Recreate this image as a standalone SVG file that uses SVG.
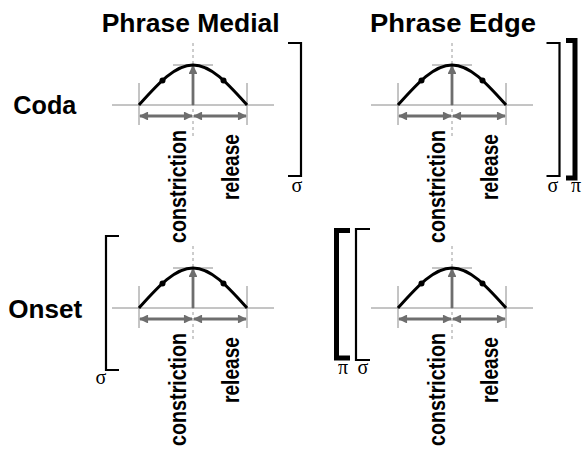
<svg xmlns="http://www.w3.org/2000/svg" xmlns:xlink="http://www.w3.org/1999/xlink" width="585" height="453" viewBox="0 0 585 453">
  <style>
    .head { font-family: "Liberation Sans", Arial, sans-serif; font-weight: bold; font-size: 26px; fill: #000; }
    .lab { font-family: "Liberation Sans", Arial, sans-serif; font-weight: bold; font-size: 24px; fill: #000; }
    .greek { font-family: "Liberation Serif", "Times New Roman", serif; font-size: 20px; fill: #000; }
    .axis { stroke: #8a8a8a; stroke-width: 1; fill: none; }
    .dash { stroke: #9a9a9a; stroke-width: 1; stroke-dasharray: 3 3; fill: none; }
    .traj { stroke: #000; stroke-width: 3; fill: none; }
    .garrow { stroke: #6e6e6e; stroke-width: 2.8; fill: none; }
    .br { stroke: #000; stroke-width: 2.2; fill: none; }
    .brk { stroke: #000; stroke-width: 5; fill: none; }
  </style>
  <defs>
    <marker id="ah" viewBox="0 0 10 10" refX="9" refY="5" markerWidth="3.8" markerHeight="3.2" orient="auto-start-reverse" markerUnits="strokeWidth">
      <path d="M0,0 L10,5 L0,10 Z" fill="#6e6e6e"/>
    </marker>
    <!-- one gesture: origin at the peak column, on the baseline -->
    <g id="gesture">
      <line class="axis" x1="-81" y1="0" x2="81" y2="0"/>
      <line class="axis" x1="-54" y1="-22" x2="-54" y2="20"/>
      <line class="axis" x1="54" y1="-22" x2="54" y2="20"/>
      <line class="axis" x1="-20" y1="-40" x2="20" y2="-40"/>
      <line class="dash" x1="0" y1="-62" x2="0" y2="32"/>
      <line class="garrow" x1="0" y1="0" x2="0" y2="-39" marker-end="url(#ah)"/>
      <line class="garrow" x1="-53" y1="11" x2="-1" y2="11" marker-start="url(#ah)" marker-end="url(#ah)"/>
      <line class="garrow" x1="1" y1="11" x2="53" y2="11" marker-start="url(#ah)" marker-end="url(#ah)"/>
      <path class="traj" d="M-54,0 C-36.4,-19.5 -18.85,-40 0,-40 C18.85,-40 36.4,-19.5 54,0"/>
      <circle cx="-30.5" cy="-24.5" r="3" fill="#000"/>
      <circle cx="30.5" cy="-24.5" r="3" fill="#000"/>
    </g>
  </defs>

  <!-- column and row headings -->
  <g id="heading-medial"><text class="head" x="101.7" y="32.3" textLength="178" lengthAdjust="spacingAndGlyphs">Phrase Medial</text></g>
  <g id="heading-edge"><text class="head" x="370" y="32.3" textLength="166" lengthAdjust="spacingAndGlyphs">Phrase Edge</text></g>
  <g id="row-coda"><text class="head" x="13.3" y="114.3" textLength="63" lengthAdjust="spacingAndGlyphs">Coda</text></g>
  <g id="row-onset"><text class="head" x="8.3" y="318.3" textLength="74" lengthAdjust="spacingAndGlyphs">Onset</text></g>

  <!-- gesture panels -->
  <g id="coda-medial">
    <use xlink:href="#gesture" href="#gesture" transform="translate(193,105)"/>
    <text class="lab" transform="translate(185.5,243) rotate(-90)" textLength="113" lengthAdjust="spacingAndGlyphs">constriction</text>
    <text class="lab" transform="translate(238.5,200) rotate(-90)" textLength="66" lengthAdjust="spacingAndGlyphs">release</text>
  </g>
  <g id="coda-edge">
    <use xlink:href="#gesture" href="#gesture" transform="translate(452,105)"/>
    <text class="lab" transform="translate(444.5,243) rotate(-90)" textLength="113" lengthAdjust="spacingAndGlyphs">constriction</text>
    <text class="lab" transform="translate(497.5,200) rotate(-90)" textLength="66" lengthAdjust="spacingAndGlyphs">release</text>
  </g>
  <g id="onset-medial">
    <use xlink:href="#gesture" href="#gesture" transform="translate(193,308)"/>
    <text class="lab" transform="translate(185.5,446) rotate(-90)" textLength="113" lengthAdjust="spacingAndGlyphs">constriction</text>
    <text class="lab" transform="translate(238.5,403) rotate(-90)" textLength="66" lengthAdjust="spacingAndGlyphs">release</text>
  </g>
  <g id="onset-edge">
    <use xlink:href="#gesture" href="#gesture" transform="translate(452,308)"/>
    <text class="lab" transform="translate(444.5,446) rotate(-90)" textLength="113" lengthAdjust="spacingAndGlyphs">constriction</text>
    <text class="lab" transform="translate(497.5,403) rotate(-90)" textLength="66" lengthAdjust="spacingAndGlyphs">release</text>
  </g>

  <!-- syllable (sigma) and phrase (pi) brackets -->
  <g id="bracket-coda-medial">
    <path class="br" d="M288,43 H301 V176 H288"/>
    <text class="greek" x="297" y="192" text-anchor="middle">σ</text>
  </g>
  <g id="bracket-coda-edge">
    <path class="br" d="M546.5,43 H559.5 V176 H546.5"/>
    <path class="brk" d="M566,40.5 H575 V178 H566"/>
    <text class="greek" x="553" y="192" text-anchor="middle">σ</text>
    <text class="greek" x="576" y="192" text-anchor="middle">π</text>
  </g>
  <g id="bracket-onset-medial">
    <path class="br" d="M119,236 H106 V370 H119"/>
    <text class="greek" x="101" y="384" text-anchor="middle">σ</text>
  </g>
  <g id="bracket-onset-edge">
    <path class="brk" d="M350,230.5 H336.5 V358 H350"/>
    <path class="br" d="M370,229 H356 V360 H370"/>
    <text class="greek" x="343" y="374" text-anchor="middle">π</text>
    <text class="greek" x="363" y="374" text-anchor="middle">σ</text>
  </g>
</svg>
